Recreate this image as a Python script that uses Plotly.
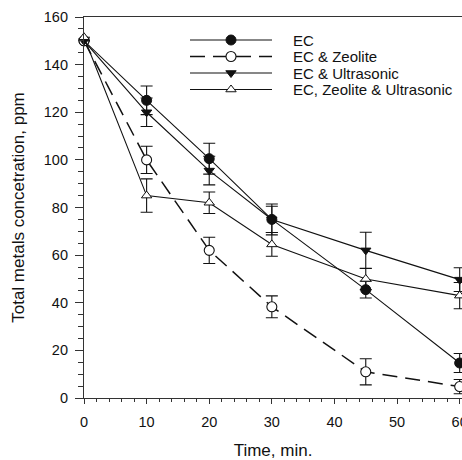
import plotly.graph_objects as go

# ---------------- data ----------------
time_min = [0, 10, 20, 30, 45, 60]

ec = [150, 125, 100.5, 75, 45.5, 14.7]
ec_err = [0, 6, 6.5, 6.5, 3.5, 4]

ec_zeo = [150, 100, 62, 38.3, 11, 4.8]
ec_zeo_err = [0, 5.7, 5.5, 4.6, 5.5, 3]

ec_ultra = [150, 120, 95.5, 75, 62, 49.7]
ec_ultra_err = [0, 6, 6, 5.5, 7.6, 5]

ec_zeo_ultra = [151.5, 85, 82, 64.5, 50, 43]
ec_zeo_ultra_err = [0, 7, 4.5, 5, 4.5, 5.5]

series_names = ["EC", "EC & Zeolite", "EC & Ultrasonic", "EC, Zeolite & Ultrasonic"]

x_ticks = [0, 10, 20, 30, 40, 50, 60]
y_ticks = [0, 20, 40, 60, 80, 100, 120, 140, 160]

# ---------------- layout constants ----------------
W, H = 462, 460
ML, MR, MT, MB = 84, 0, 17, 62
FONT = "Liberation Sans, Arial, sans-serif"
INK = "#111111"

styles = [
    dict(symbol="circle", color=INK, line=dict(color=INK, width=1), size=10, dash="solid", lw=1.1),
    dict(symbol="circle-open", color=INK, line=dict(color=INK, width=1.1), size=10, dash="15px,8px", lw=1.5),
    dict(symbol="triangle-down", color=INK, line=dict(color=INK, width=1), size=9, dash="solid", lw=1.1),
    dict(symbol="triangle-up", color="white", line=dict(color=INK, width=1), size=9, dash="solid", lw=1.1),
]
values = [ec, ec_zeo, ec_ultra, ec_zeo_ultra]
errors = [ec_err, ec_zeo_err, ec_ultra_err, ec_zeo_ultra_err]

fig = go.Figure()

for name, vals, errs, st in zip(series_names, values, errors, styles):
    mcolor = "white" if st["symbol"] == "circle-open" else st["color"]
    sym = "circle" if st["symbol"] == "circle-open" else st["symbol"]
    fig.add_trace(go.Scatter(
        x=time_min, y=vals, name=name, mode="lines+markers",
        line=dict(color=INK, width=st["lw"], dash=st["dash"]),
        marker=dict(symbol=sym, size=st["size"], color=mcolor, line=st["line"]),
        error_y=dict(type="data", array=errs, visible=True, color=INK, thickness=1.1, width=6),
        cliponaxis=False, showlegend=False,
    ))

# ---------------- custom legend (pixel-space overlay axes) ----------------
leg_x0, leg_xm, leg_x1, leg_tx = 190, 231, 272, 291
leg_rows = [40, 56.5, 73, 89.5]
for name, st, ry in zip(series_names, styles, leg_rows):
    mcolor = "white" if st["symbol"] == "circle-open" else st["color"]
    sym = "circle" if st["symbol"] == "circle-open" else st["symbol"]
    fig.add_trace(go.Scatter(
        x=[leg_x0, leg_x1], y=[ry, ry], mode="lines", xaxis="x2", yaxis="y2",
        line=dict(color=INK, width=st["lw"], dash=st["dash"]), showlegend=False, hoverinfo="skip",
    ))
    fig.add_trace(go.Scatter(
        x=[leg_xm], y=[ry], mode="markers", xaxis="x2", yaxis="y2",
        marker=dict(symbol=sym, size=st["size"], color=mcolor, line=st["line"]),
        showlegend=False, hoverinfo="skip", cliponaxis=False,
    ))
    fig.add_annotation(x=leg_tx, y=ry, xref="x2", yref="y2", text=name, showarrow=False,
                       xanchor="left", yanchor="middle", font=dict(family=FONT, size=15, color=INK))

fig.update_layout(
    width=W, height=H,
    margin=dict(l=ML, r=MR, t=MT, b=MB, autoexpand=False),
    paper_bgcolor="white", plot_bgcolor="white",
    font=dict(family=FONT, color=INK),
    xaxis=dict(
        range=[0, 60.37], tickvals=x_ticks, showgrid=False, zeroline=False,
        showline=True, linecolor="#333", linewidth=1.2, mirror=True,
        ticks="outside", ticklen=5, tickwidth=1, tickcolor="#333",
        minor=dict(dtick=2, ticks="outside", ticklen=3, tickcolor="#333", tickwidth=1),
        tickfont=dict(size=14.5, family=FONT, color=INK),
        ticklabelstandoff=5, ticklabeloverflow="allow", automargin=False,
        title=dict(text="Time, min.", font=dict(size=17, family=FONT, color=INK), standoff=20),
    ),
    yaxis=dict(
        range=[0, 160], tickvals=y_ticks, showgrid=False, zeroline=False,
        showline=True, linecolor="#333", linewidth=1.2, mirror=True,
        ticks="outside", ticklen=8, tickwidth=1, tickcolor="#333",
        minor=dict(dtick=5, ticks="outside", ticklen=5, tickcolor="#333", tickwidth=1),
        tickfont=dict(size=14.5, family=FONT, color=INK),
        ticklabelstandoff=4, automargin=False,
        title=dict(text="Total metals concetration, ppm", font=dict(size=17, family=FONT, color=INK), standoff=14),
    ),
    xaxis2=dict(range=[ML, W - MR], overlaying="x", visible=False, anchor="y2"),
    yaxis2=dict(range=[H - MB, MT], overlaying="y", visible=False, anchor="x2"),
)

fig.write_html("out.html")
